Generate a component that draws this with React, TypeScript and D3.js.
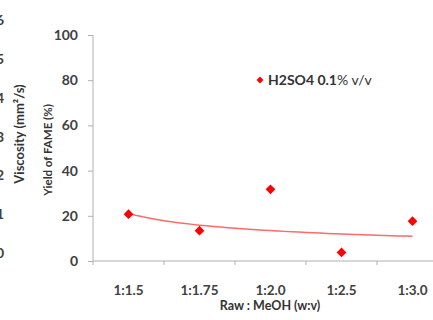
import React from 'react';
import * as d3 from 'd3';

const categories = ['1:1.5', '1:1.75', '1:2.0', '1:2.5', '1:3.0'];
const yieldValues = [20.7, 13.4, 31.7, 3.8, 17.6];
const yTicks = [0, 20, 40, 60, 80, 100];
// cropped tick labels of the neighbouring (viscosity) axis on the far left
const viscTicks = [0, 1, 2, 3, 4, 5, 6];

const font = 'Lato, "Open Sans", sans-serif';

const App = () => {
  const ref = React.useRef<SVGSVGElement>(null);

  React.useEffect(() => {
    const svg = d3.select(ref.current);
    svg.selectAll('*').remove();

    const width = 433;
    const height = 320;
    const left = 93;
    const bandW = 71;

    const x = d3.scaleBand()
      .domain(categories)
      .range([left, left + bandW * categories.length]);
    const y = d3.scaleLinear().domain([0, 100]).range([261, 35]);
    const yv = d3.scaleLinear().domain([0, 6]).range([253, 20]);

    svg.append('rect').attr('width', width).attr('height', height).attr('fill', '#fff');

    // partially visible viscosity axis labels
    svg.selectAll('.visc')
      .data(viscTicks)
      .enter()
      .append('text')
      .attr('x', 4)
      .attr('y', d => yv(d) + 5)
      .attr('text-anchor', 'end')
      .style('font-family', font)
      .style('font-size', '14px')
      .style('font-weight', 'bold')
      .style('fill', '#404040')
      .text(d => d);

    svg.append('text')
      .attr('transform', 'translate(24,134) rotate(-90)')
      .attr('text-anchor', 'middle')
      .style('font-family', font)
      .style('font-size', '13px')
      .style('font-weight', 'bold')
      .style('fill', '#333')
      .text('Viscosity (mm²/s)');

    // y axis
    const yAxis = svg.append('g')
      .attr('transform', `translate(${left},0)`)
      .call(d3.axisLeft(y).tickValues(yTicks).tickSize(5).tickPadding(10));
    yAxis.select('.domain').attr('stroke', '#b0b0b0').attr('d', `M-0,${y(100)}V${y(0)}`);
    yAxis.selectAll('.tick line').attr('stroke', '#b0b0b0');
    yAxis.selectAll('.tick text')
      .style('font-family', font)
      .style('font-size', '14px')
      .style('font-weight', 'bold')
      .style('fill', '#404040');

    svg.append('text')
      .attr('transform', 'translate(52,150) rotate(-90)')
      .attr('text-anchor', 'middle')
      .style('font-family', font)
      .style('font-size', '11.5px')
      .style('font-weight', 'bold')
      .style('fill', '#333')
      .text('Yield of FAME (%)');

    // x axis
    const baseY = y(0);
    svg.append('line')
      .attr('x1', left).attr('x2', left + bandW * categories.length)
      .attr('y1', baseY).attr('y2', baseY)
      .attr('stroke', '#b0b0b0');
    const bounds = categories.map((c, i) => (i === 0 ? left : (x(c) as number))).concat([left + bandW * categories.length]);
    svg.selectAll('.xtick')
      .data(bounds)
      .enter()
      .append('line')
      .attr('x1', d => d).attr('x2', d => d)
      .attr('y1', baseY).attr('y2', baseY + 4)
      .attr('stroke', '#b0b0b0');
    svg.selectAll('.xlab')
      .data(categories)
      .enter()
      .append('text')
      .attr('x', d => (x(d) as number) + x.bandwidth() / 2)
      .attr('y', 295)
      .attr('text-anchor', 'middle')
      .style('font-family', font)
      .style('font-size', '13.5px')
      .style('font-weight', 'bold')
      .style('fill', '#404040')
      .text(d => d);

    svg.append('text')
      .attr('x', 270)
      .attr('y', 310)
      .attr('text-anchor', 'middle')
      .style('font-family', font)
      .style('font-size', '12.5px')
      .style('font-weight', 'bold')
      .style('fill', '#333')
      .text('Raw : MeOH (w:v)');

    // power trendline fitted to the data (y = a * x^b)
    const lx = yieldValues.map((_, i) => Math.log(i + 1));
    const ly = yieldValues.map(v => Math.log(v));
    const mx = d3.mean(lx) as number;
    const my = d3.mean(ly) as number;
    const b = d3.sum(lx, (v, i) => (v - mx) * (ly[i] - my)) / d3.sum(lx, v => (v - mx) ** 2);
    const a = Math.exp(my - b * mx);
    const idx = d3.range(1, categories.length + 0.001, 0.1);
    const cx = d3.scaleLinear().domain([1, categories.length])
      .range([(x(categories[0]) as number) + x.bandwidth() / 2, (x(categories[categories.length - 1]) as number) + x.bandwidth() / 2]);
    svg.append('path')
      .datum(idx)
      .attr('d', d3.line<number>().x(d => cx(d)).y(d => y(a * Math.pow(d, b))))
      .attr('fill', 'none')
      .attr('stroke', '#ff6a6a')
      .attr('stroke-width', 1.5);

    // markers
    const diamond = d3.symbol().type(d3.symbolDiamond2).size(60);
    svg.selectAll('.pt')
      .data(yieldValues)
      .enter()
      .append('path')
      .attr('d', diamond)
      .attr('transform', (d, i) => `translate(${(x(categories[i]) as number) + x.bandwidth() / 2},${y(d)})`)
      .attr('fill', '#ff0000');

    // legend
    svg.append('path')
      .attr('d', d3.symbol().type(d3.symbolDiamond2).size(30))
      .attr('transform', 'translate(260,80)')
      .attr('fill', '#ff0000');
    const lg = svg.append('text')
      .attr('x', 268)
      .attr('y', 85)
      .style('font-family', font)
      .style('font-size', '14px')
      .style('fill', '#333');
    lg.append('tspan').style('font-weight', 'bold').text('H2SO4 0.1');
    lg.append('tspan').text('% v/v');
  }, []);

  return <svg ref={ref} width={433} height={320} style={{ display: 'block', position: 'absolute', left: 0, top: 0 }} />;
};

export default App;
